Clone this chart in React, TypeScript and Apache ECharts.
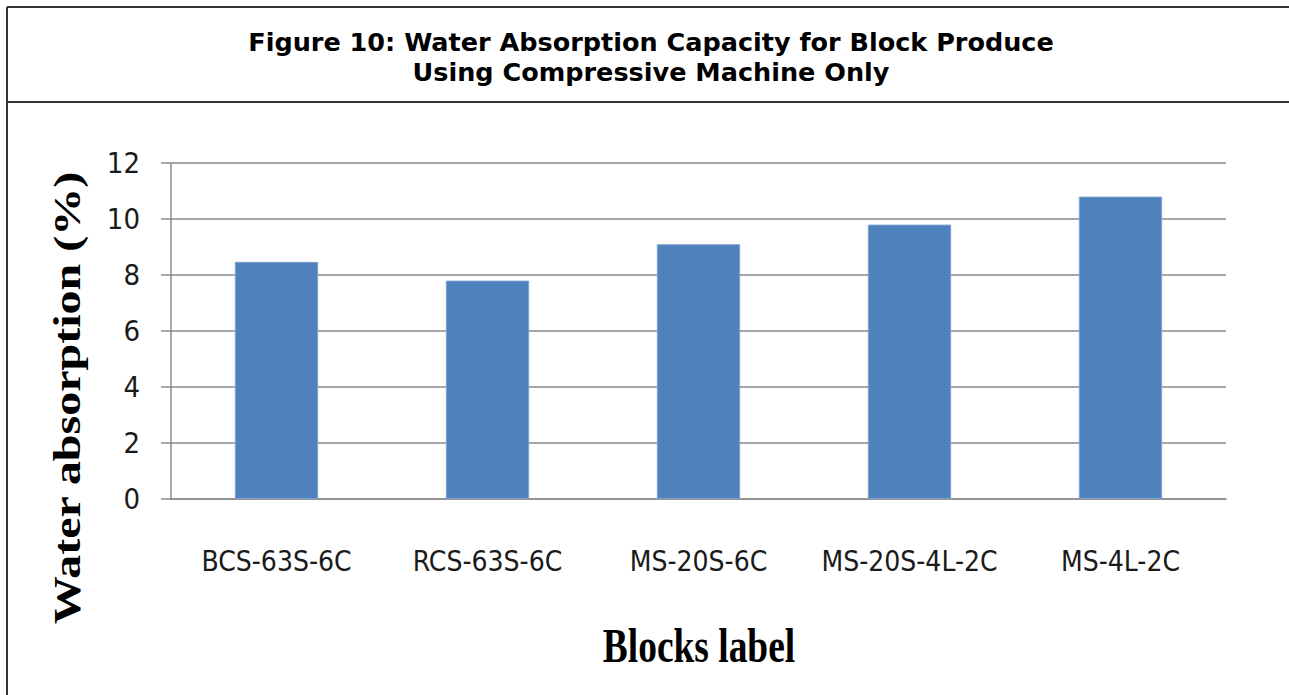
import React, { useEffect, useRef } from "react";
import * as echarts from "echarts";

const categories = ["BCS-63S-6C", "RCS-63S-6C", "MS-20S-6C", "MS-20S-4L-2C", "MS-4L-2C"];
const values = [8.47, 7.8, 9.1, 9.8, 10.8];
const titleLines = ["Figure 10: Water Absorption Capacity for Block Produce", "Using Compressive Machine Only"];
const yAxisTitle = "Water absorption (%)";
const xAxisTitle = "Blocks label";

export default function App() {
  const ref = useRef<HTMLDivElement>(null);
  useEffect(() => {
    if (!ref.current) return;
    const chart = echarts.init(ref.current, null, { renderer: "svg" });
    const tickFont = "'Liberation Sans Narrow', 'DejaVu Sans Condensed', sans-serif";
    chart.setOption({
      animation: false,
      backgroundColor: "#ffffff",
      grid: { left: 171, right: 63, top: 163, bottom: 196, containLabel: false },
      xAxis: {
        type: "category",
        data: categories,
        axisLine: { show: true, lineStyle: { color: "#8c8c8c", width: 1.5 } },
        axisTick: { show: false },
        axisLabel: { fontFamily: tickFont, fontSize: 28, color: "#1a1a1a", margin: 48, interval: 0 },
      },
      yAxis: {
        type: "value",
        min: 0,
        max: 12,
        interval: 2,
        axisLine: { show: true, lineStyle: { color: "#8c8c8c", width: 1.5 } },
        axisTick: { show: true, inside: false, length: 10, lineStyle: { color: "#8c8c8c", width: 1.5 } },
        splitLine: { show: true, lineStyle: { color: "#a6a6a6", width: 2 } },
        axisLabel: { fontFamily: tickFont, fontSize: 29, color: "#1a1a1a", margin: 31 },
      },
      series: [
        {
          type: "bar",
          data: values,
          barWidth: "39.5%",
          itemStyle: { color: "#4f81bd", borderColor: "#7ea3d2", borderWidth: 1 },
        },
      ],
      graphic: [
        { type: "line", shape: { x1: 7, y1: 7, x2: 1289, y2: 7 }, style: { stroke: "#333", lineWidth: 2 } },
        { type: "line", shape: { x1: 7, y1: 7, x2: 7, y2: 695 }, style: { stroke: "#333", lineWidth: 2 } },
        { type: "line", shape: { x1: 7, y1: 102, x2: 1289, y2: 102 }, style: { stroke: "#333", lineWidth: 2 } },
        {
          type: "text",
          x: 651,
          y: 42,
          style: {
            text: titleLines[0],
            font: "bold 25.5px 'DejaVu Sans', Verdana, sans-serif",
            fill: "#000",
            textAlign: "center",
            textVerticalAlign: "middle",
          },
        },
        {
          type: "text",
          x: 651,
          y: 72,
          style: {
            text: titleLines[1],
            font: "bold 25.5px 'DejaVu Sans', Verdana, sans-serif",
            fill: "#000",
            textAlign: "center",
            textVerticalAlign: "middle",
          },
        },
        {
          type: "text",
          x: 67,
          y: 398,
          rotation: Math.PI / 2,
          scaleX: 1,
          scaleY: 0.8,
          style: {
            text: yAxisTitle,
            font: "bold 48px 'Liberation Serif', 'Times New Roman', serif",
            fill: "#000",
            textAlign: "center",
            textVerticalAlign: "middle",
          },
        },
        {
          type: "text",
          x: 699,
          y: 646,
          scaleX: 0.78,
          scaleY: 1,
          style: {
            text: xAxisTitle,
            font: "bold 48px 'Liberation Serif', 'Times New Roman', serif",
            fill: "#000",
            textAlign: "center",
            textVerticalAlign: "middle",
          },
        },
      ],
    });
    return () => chart.dispose();
  }, []);
  return (
    <div
      ref={ref}
      style={{ position: "fixed", left: 0, top: 0, width: 1289, height: 695 }}
    />
  );
}
